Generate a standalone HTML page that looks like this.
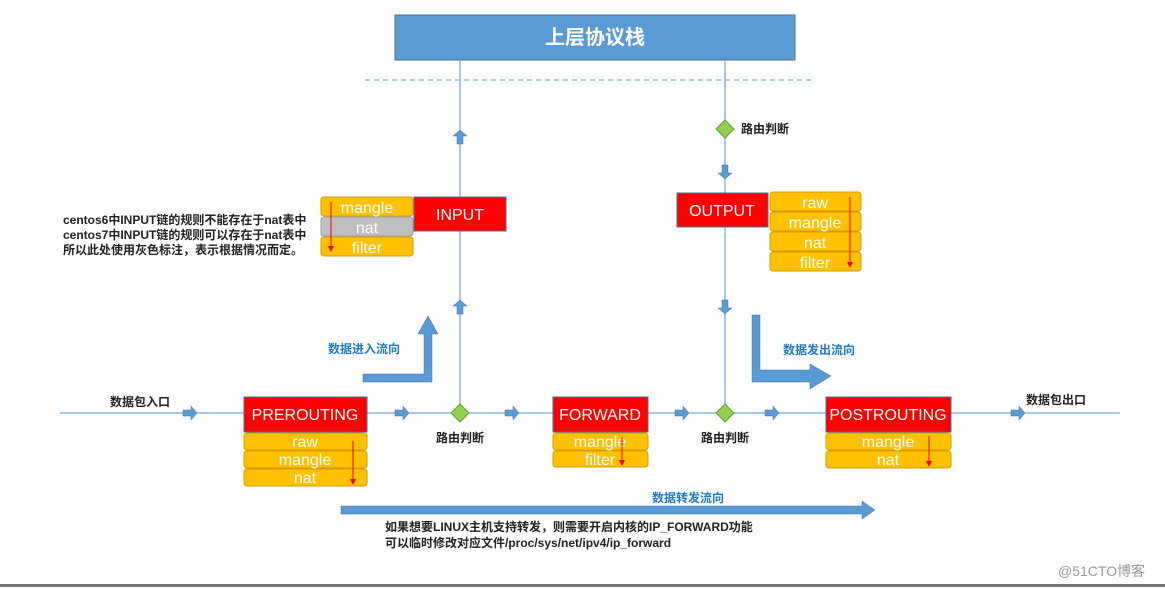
<!DOCTYPE html>
<html><head><meta charset="utf-8"><style>
html,body{margin:0;padding:0;background:#fff;}
svg{display:block;font-family:"Liberation Sans","Noto Sans CJK SC",sans-serif;}
.t{font-size:15px;fill:#fff;text-anchor:middle;}
.u{font-size:16px;fill:#fff;text-anchor:middle;}
.k{font-size:12px;font-weight:bold;fill:#222;}
.b{font-size:12px;font-weight:bold;fill:#1f7bc8;}
</style></head><body>
<svg width="1165" height="589" viewBox="0 0 1165 589">
<defs>
<g id="ar"><path d="M-7,-3 H1 V-7 L7,0 L1,7 V3 H-7 Z" fill="#5b9bd5" stroke="#41719c" stroke-width="0.5"/></g>
<marker id="rh" markerWidth="6" markerHeight="6" refX="5" refY="3" orient="auto" markerUnits="userSpaceOnUse"><path d="M0,0 L6,3 L0,6Z" fill="#f00"/></marker>
</defs>
<rect x="395" y="15" width="400" height="45" fill="#5b9bd5" stroke="#41719c"/>
<text x="595" y="44" text-anchor="middle" font-size="20" font-weight="bold" fill="#fff">上层协议栈</text>
<line x1="365" y1="80" x2="812" y2="80" stroke="#5b9bd5" stroke-dasharray="5,4"/>
<g stroke="#8db4e2" stroke-width="1.5">
<line x1="460" y1="60" x2="460" y2="413"/>
<line x1="725" y1="60" x2="725" y2="413"/>
<line x1="60" y1="413" x2="1120" y2="413"/>
</g>
<use href="#ar" x="190" y="413"/><use href="#ar" x="402" y="413"/><use href="#ar" x="512" y="413"/>
<use href="#ar" x="682" y="413"/><use href="#ar" x="772" y="413"/><use href="#ar" x="1018" y="413"/>
<use href="#ar" transform="translate(460,137) rotate(-90)"/><use href="#ar" transform="translate(460,307) rotate(-90)"/>
<use href="#ar" transform="translate(725,172) rotate(90)"/><use href="#ar" transform="translate(725,307) rotate(90)"/>
<g fill="#92d050" stroke="#6a9a3a">
<path d="M460,404 L469,413 L460,422 L451,413Z"/>
<path d="M725,404 L734,413 L725,422 L716,413Z"/>
<path d="M725,120 L734,129 L725,138 L716,129Z"/>
</g>
<text class="k" x="741" y="133">路由判断</text>
<text class="k" x="436" y="442">路由判断</text>
<text class="k" x="701" y="442">路由判断</text>
<text class="k" x="110" y="406">数据包入口</text>
<text class="k" x="1026" y="404">数据包出口</text>
<path d="M363,374 H424 V334 H418 L428,316 L438,334 H432 V382 H363Z" fill="#5b9bd5" stroke="#41719c" stroke-width="0.5"/>
<path d="M752,315 H760 V370 H810 V364 L831,376 L810,389 V382 H752Z" fill="#5b9bd5" stroke="#41719c" stroke-width="0.5"/>
<path d="M341,506 H862 V501 L875,510 L862,519 V514 H341Z" fill="#5b9bd5" stroke="#41719c" stroke-width="0.5"/>
<text class="b" x="328" y="353">数据进入流向</text>
<text class="b" x="783" y="354">数据发出流向</text>
<text class="b" x="652" y="502">数据转发流向</text>
<text class="k" x="385" y="531">如果想要LINUX主机支持转发，则需要开启内核的IP_FORWARD功能</text>
<text class="k" x="385" y="547">可以临时修改对应文件/proc/sys/net/ipv4/ip_forward</text>
<text class="k" x="63" y="224">centos6中INPUT链的规则不能存在于nat表中</text>
<text class="k" x="63" y="239">centos7中INPUT链的规则可以存在于nat表中</text>
<text class="k" x="63" y="254">所以此处使用灰色标注，表示根据情况而定。</text>
<g fill="#f00" stroke="#41719c">
<rect x="414" y="197" width="92" height="34"/>
<rect x="677" y="193" width="91" height="34"/>
<rect x="244" y="397" width="123" height="35"/>
<rect x="553" y="397" width="95" height="35"/>
<rect x="826" y="397" width="125" height="35"/>
</g>
<text class="u" x="460" y="220">INPUT</text>
<text class="u" x="722" y="216">OUTPUT</text>
<text class="u" x="305" y="420">PREROUTING</text>
<text class="u" x="600" y="420">FORWARD</text>
<text class="u" x="888" y="420">POSTROUTING</text>
<g stroke="#d79b00" stroke-width="1">
<rect x="321" y="197" width="92" height="19" rx="3" fill="#ffc000"/>
<rect x="321" y="217" width="92" height="19" rx="3" fill="#bfbfbf" stroke="#a0a0a0"/>
<rect x="321" y="237" width="92" height="19" rx="3" fill="#ffc000"/>
<rect x="770" y="192" width="91" height="19" rx="3" fill="#ffc000"/>
<rect x="770" y="212" width="91" height="19" rx="3" fill="#ffc000"/>
<rect x="770" y="232" width="91" height="19" rx="3" fill="#ffc000"/>
<rect x="770" y="252" width="91" height="19" rx="3" fill="#ffc000"/>
<rect x="244" y="433" width="123" height="17" rx="3" fill="#ffc000"/>
<rect x="244" y="451" width="123" height="17" rx="3" fill="#ffc000"/>
<rect x="244" y="469" width="123" height="17" rx="3" fill="#ffc000"/>
<rect x="553" y="433" width="95" height="17" rx="3" fill="#ffc000"/>
<rect x="553" y="451" width="95" height="16" rx="3" fill="#ffc000"/>
<rect x="826" y="433" width="125" height="17" rx="3" fill="#ffc000"/>
<rect x="826" y="451" width="125" height="17" rx="3" fill="#ffc000"/>
</g>
<text class="u" x="367" y="213">mangle</text><text class="u" x="367" y="233">nat</text><text class="u" x="367" y="253">filter</text>
<text class="u" x="815" y="208">raw</text><text class="u" x="815" y="228">mangle</text><text class="u" x="815" y="248">nat</text><text class="u" x="815" y="268">filter</text>
<text class="u" x="305" y="447">raw</text><text class="u" x="305" y="465">mangle</text><text class="u" x="305" y="483">nat</text>
<text class="u" x="600" y="447">mangle</text><text class="u" x="600" y="465">filter</text>
<text class="u" x="888" y="447">mangle</text><text class="u" x="888" y="465">nat</text>
<g stroke="#f00" stroke-width="1">
<line x1="331" y1="202" x2="331" y2="251" marker-end="url(#rh)"/>
<line x1="850" y1="197" x2="850" y2="267" marker-end="url(#rh)"/>
<line x1="353" y1="441" x2="353" y2="484" marker-end="url(#rh)"/>
<line x1="622" y1="437" x2="622" y2="465" marker-end="url(#rh)"/>
<line x1="929" y1="436" x2="929" y2="466" marker-end="url(#rh)"/>
</g>
<text x="1058" y="576" font-size="14" fill="#999">@51CTO博客</text>
<rect x="0" y="584" width="1165" height="3" fill="#777"/>
</svg>
</body></html>
